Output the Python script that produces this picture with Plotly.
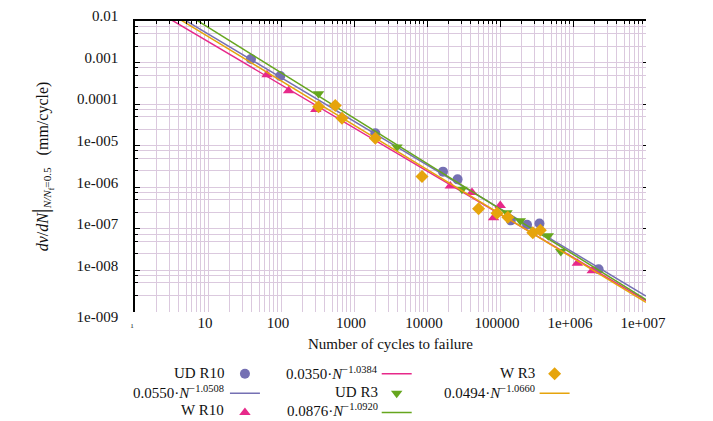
import plotly.graph_objects as go

# ---------------- data ----------------
ud_r10_n = [38.8, 97.8, 1959, 16560, 26240, 140600, 234400, 347500, 2244000]
ud_r10_v = [1.22e-3, 4.77e-4, 2.0e-5, 2.38e-6, 1.55e-6, 1.60e-7, 1.25e-7, 1.34e-7, 1.07e-8]

w_r10_n = [64.3, 127, 300, 20850, 41330, 100900, 81700, 1146000, 1837000]
w_r10_v = [5.12e-4, 2.10e-4, 7.46e-5, 1.08e-6, 7.54e-7, 3.67e-7, 1.86e-7, 1.48e-8, 9.77e-9]

ud_r3_n = [327, 3882, 30140, 124700, 189700, 459000, 680600]
ud_r3_v = [1.78e-4, 9.35e-6, 9.0e-7, 2.43e-7, 1.56e-7, 6.79e-8, 2.85e-8]

w_r3_n = [327, 554, 685, 1959, 8548, 50900, 90970, 127900, 281300, 356500]
w_r3_v = [8.71e-5, 9.31e-5, 4.58e-5, 1.51e-5, 1.81e-6, 3.06e-7, 2.38e-7, 1.89e-7, 8.02e-8, 9.31e-8]

# power-law fits  v = a * N^b  (coefficients printed in the legend)
fit_a = [0.0550, 0.0350, 0.0876, 0.0494]
fit_b = [-1.0508, -1.0384, -1.0920, -1.0660]
fit_n = [1, 1e7]

x_tickvals = [1, 10, 100, 1000, 1e4, 1e5, 1e6, 1e7]
x_ticktext = ["<span style='font-size:7px'>1</span>", "10", "100", "1000", "10000", "100000", "1e+006", "1e+007"]
y_tickvals = [1e-9, 1e-8, 1e-7, 1e-6, 1e-5, 1e-4, 1e-3, 1e-2]
y_ticktext = ["<br>1e-009", "1e-008", "1e-007", "1e-006", "1e-005", "0.0001", "0.001", "0.01"]

# ---------------- styling ----------------
C_PURPLE = "#7570b3"
C_PINK = "#e7298a"
C_GREEN = "#66a61e"
C_ORANGE = "#e6a40c"
FONT = "Liberation Serif"
GRID = "#dbc9de"
TXT = "#111"

def fit_line(a, b):
    return [a * n ** b for n in fit_n]

fig = go.Figure()

# column 1 legend: UD R10 points, UD R10 fit, W R10 points
fig.add_trace(go.Scatter(x=ud_r10_n, y=ud_r10_v, mode="markers", name=" ",
                         marker=dict(symbol="circle", size=10, color=C_PURPLE),
                         legend="legend", legendrank=1))
fig.add_trace(go.Scatter(x=fit_n, y=fit_line(fit_a[0], fit_b[0]), mode="lines", name=" ",
                         line=dict(color=C_PURPLE, width=1.5), legend="legend", legendrank=2))
fig.add_trace(go.Scatter(x=w_r10_n, y=w_r10_v, mode="markers", name=" ",
                         marker=dict(symbol="triangle-up", size=10, color=C_PINK),
                         legend="legend", legendrank=3))
# column 2: W R10 fit, UD R3 points, UD R3 fit
fig.add_trace(go.Scatter(x=fit_n, y=fit_line(fit_a[1], fit_b[1]), mode="lines", name=" ",
                         line=dict(color=C_PINK, width=1.5), legend="legend2", legendrank=1))
fig.add_trace(go.Scatter(x=ud_r3_n, y=ud_r3_v, mode="markers", name=" ",
                         marker=dict(symbol="triangle-down", size=10, color=C_GREEN),
                         legend="legend2", legendrank=2))
fig.add_trace(go.Scatter(x=fit_n, y=fit_line(fit_a[2], fit_b[2]), mode="lines", name=" ",
                         line=dict(color=C_GREEN, width=1.5), legend="legend2", legendrank=3))
# column 3: W R3 points, W R3 fit
fig.add_trace(go.Scatter(x=w_r3_n, y=w_r3_v, mode="markers", name=" ",
                         marker=dict(symbol="diamond", size=10, color=C_ORANGE),
                         legend="legend3", legendrank=1))
fig.add_trace(go.Scatter(x=fit_n, y=fit_line(fit_a[3], fit_b[3]), mode="lines", name=" ",
                         line=dict(color=C_ORANGE, width=1.5), legend="legend3", legendrank=2))
# empty trace so that the mirrored top/right frame axes get drawn
fig.add_trace(go.Scatter(x=[], y=[], xaxis="x2", yaxis="y2", showlegend=False, hoverinfo="skip"))

leg_common = dict(orientation="v", yanchor="top", xanchor="left", bgcolor="rgba(0,0,0,0)",
                  font=dict(family=FONT, size=12.6), itemwidth=30, tracegroupgap=0)
leg_y = -0.162

# legend texts (right-aligned, symbol to their right as in the reference)
leg_text = [
    ("UD R10", 0.178, 0), ("0.0550·<i>N</i><sup>−1.0508</sup>", 0.178, 1), ("W R10", 0.178, 2),
    ("0.0350·<i>N</i><sup>−1.0384</sup>", 0.479, 0), ("UD R3", 0.479, 1), ("0.0876·<i>N</i><sup>−1.0920</sup>", 0.479, 2),
    ("W R3", 0.786, 0), ("0.0494·<i>N</i><sup>−1.0660</sup>", 0.786, 1),
]
row_y = [-0.2107, -0.2732, -0.3368]
annotations = []
for txt, xx, r in leg_text:
    annotations.append(dict(text=txt, x=xx, y=row_y[r], xref="paper", yref="paper",
                            xanchor="right", yanchor="middle", showarrow=False,
                            font=dict(family=FONT, size=15, color=TXT)))

# the page body adds an 8 px offset, so the figure is 8 px smaller and margins compensate
fig.update_layout(
    width=705, height=413,
    margin=dict(l=127, r=67, t=13, b=109, autoexpand=False),
    paper_bgcolor="white", plot_bgcolor="white",
    font=dict(family=FONT, size=15, color=TXT),
    showlegend=True,
    legend=dict(x=0.176, y=leg_y, **leg_common),
    legend2=dict(x=0.473, y=leg_y, **leg_common),
    legend3=dict(x=0.782, y=leg_y, **leg_common),
    annotations=annotations,
    xaxis=dict(type="log", range=[0, 7], tickvals=x_tickvals, ticktext=x_ticktext,
               automargin=False, showline=False, ticks="", showgrid=True, gridcolor=GRID, gridwidth=1.2,
               minor=dict(dtick="D1", showgrid=True, gridcolor=GRID, gridwidth=1.2, ticks=""),
               tickfont=dict(family=FONT, size=15, color=TXT), ticklabelshift=-3,
               title=dict(text="Number of cycles to failure", font=dict(family=FONT, size=15, color=TXT),
                          standoff=8),
               zeroline=False),
    xaxis2=dict(type="log", range=[0, 7], overlaying="x", side="top", showline=True, automargin=False,
                linecolor="black", linewidth=1.5, ticks="inside", ticklen=6, tickcolor="black",
                tickvals=x_tickvals, showticklabels=False, showgrid=False, zeroline=False,
                minor=dict(dtick="D1", ticks="inside", ticklen=3, tickcolor="black", showgrid=False)),
    yaxis=dict(type="log", range=[-9, -2], tickvals=y_tickvals, ticktext=y_ticktext,
               automargin=False, showline=True, linecolor="black", linewidth=1.5, ticks="inside", ticklen=5,
               tickcolor="black", ticklabelstandoff=12, ticklabelshift=-5,
               showgrid=True, gridcolor=GRID, gridwidth=1.2,
               minor=dict(tickvals=[m * 10 ** e for e in range(-9, -2) for m in (2.5, 5, 7.5)],
                          showgrid=True, gridcolor=GRID, gridwidth=1.2, ticks="inside",
                          ticklen=3, tickcolor="black"),
               tickfont=dict(family=FONT, size=15, color=TXT),
               title=dict(text="<i>dv</i>/<i>dN</i><span style='font-size:24px'>|</span>"
                               "<sub><i>N/N</i><sub>f</sub>=0.5</sub>   (mm/cycle)",
                          font=dict(family=FONT, size=16, color=TXT), standoff=24),
               zeroline=False),
    yaxis2=dict(type="log", range=[-9, -2], overlaying="y", side="right", showline=False, automargin=False,
                ticks="inside", ticklen=3, tickcolor="black", tickvals=y_tickvals, zeroline=False,
                showticklabels=False, showgrid=False),
)

fig.write_html("out.html")
